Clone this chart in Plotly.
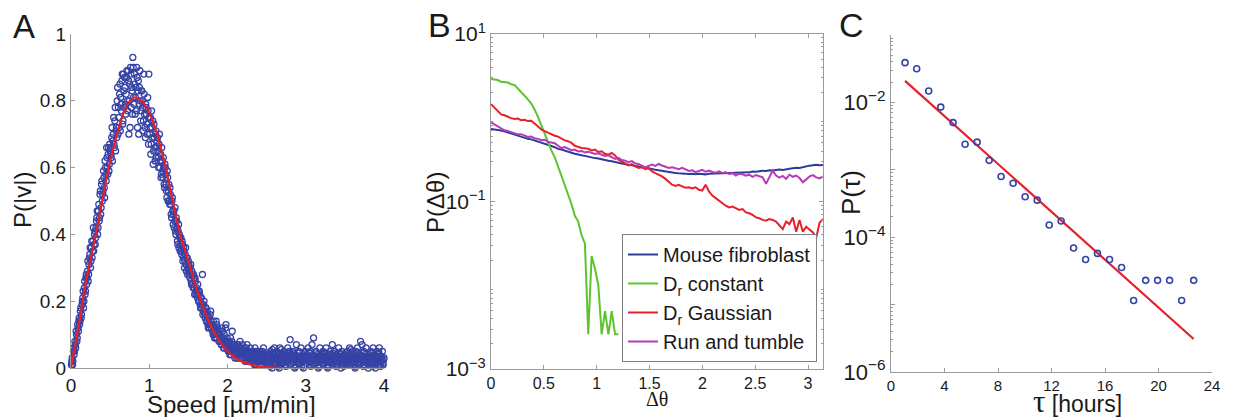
import numpy as np
import plotly.graph_objects as go

# ---------------- Panel A data ----------------
speed_x = np.round(np.arange(1, 401) * 0.01, 3)
speed_p = [
    0.02, 0.01, 0.05, 0.04, 0.08, 0.06, 0.10, 0.09, 0.12, 0.14,
    0.13, 0.17, 0.15, 0.19, 0.21, 0.18, 0.24, 0.22, 0.27, 0.25,
    0.29, 0.26, 0.31, 0.34, 0.30, 0.36, 0.33, 0.38, 0.35, 0.40,
    0.37, 0.42, 0.45, 0.40, 0.47, 0.44, 0.52, 0.46, 0.55, 0.50,
    0.53, 0.57, 0.51, 0.60, 0.56, 0.63, 0.58, 0.66, 0.61, 0.65,
    0.64, 0.69, 0.62, 0.70, 0.67, 0.74, 0.65, 0.72, 0.80, 0.70,
    0.75, 0.82, 0.71, 0.79, 0.86, 0.73, 0.88, 0.78, 0.84, 0.76,
    0.87, 0.80, 0.89, 0.70, 0.85, 0.90, 0.78, 0.83, 0.93, 0.81,
    0.88, 0.76, 0.84, 0.90, 0.72, 0.86, 0.79, 0.89, 0.74, 0.83,
    0.80, 0.71, 0.88, 0.76, 0.69, 0.78, 0.73, 0.81, 0.67, 0.75,
    0.72, 0.64, 0.77, 0.69, 0.61, 0.73, 0.66, 0.70, 0.63, 0.68,
    0.65, 0.60, 0.70, 0.62, 0.57, 0.66, 0.59, 0.63, 0.55, 0.61,
    0.58, 0.53, 0.59, 0.50, 0.55, 0.49, 0.52, 0.46, 0.50, 0.47,
    0.46, 0.42, 0.48, 0.40, 0.44, 0.38, 0.41, 0.36, 0.39, 0.37,
    0.35, 0.38, 0.32, 0.36, 0.30, 0.34, 0.31, 0.33, 0.28, 0.32,
    0.29, 0.27, 0.31, 0.25, 0.28, 0.24, 0.27, 0.22, 0.26, 0.23,
    0.22, 0.25, 0.20, 0.23, 0.19, 0.21, 0.18, 0.28, 0.17, 0.20,
    0.16, 0.18, 0.14, 0.17, 0.13, 0.15, 0.12, 0.16, 0.14, 0.13,
    0.11, 0.14, 0.10, 0.12, 0.09, 0.13, 0.10, 0.11, 0.08, 0.10,
    0.09, 0.07, 0.12, 0.08, 0.06, 0.10, 0.07, 0.13, 0.06, 0.08,
    0.05, 0.07, 0.04, 0.09, 0.06, 0.11, 0.05, 0.07, 0.04, 0.06,
    0.05, 0.03, 0.07, 0.04, 0.06, 0.08, 0.03, 0.05, 0.07, 0.04,
    0.03, 0.06, 0.04, 0.02, 0.07, 0.05, 0.03, 0.04, 0.06, 0.02,
    0.04, 0.02, 0.05, 0.03, 0.06, 0.01, 0.04, 0.03, 0.05, 0.02,
    0.03, 0.05, 0.01, 0.04, 0.02, 0.06, 0.03, 0.01, 0.04, 0.02,
    0.02, 0.04, 0.01, 0.03, 0.05, 0.02, 0.00, 0.04, 0.03, 0.06,
    0.01, 0.03, 0.05, 0.02, 0.04, 0.00, 0.06, 0.03, 0.01, 0.04,
    0.02, 0.05, 0.03, 0.01, 0.04, 0.02, 0.06, 0.03, 0.05, 0.085,
    0.01, 0.04, 0.02, 0.05, 0.03, 0.00, 0.04, 0.07, 0.02, 0.03,
    0.05, 0.01, 0.03, 0.06, 0.02, 0.04, 0.00, 0.03, 0.05, 0.02,
    0.04, 0.02, 0.06, 0.01, 0.03, 0.05, 0.02, 0.07, 0.04, 0.09,
    0.01, 0.03, 0.05, 0.02, 0.04, 0.00, 0.03, 0.06, 0.02, 0.04,
    0.03, 0.05, 0.01, 0.04, 0.02, 0.06, 0.03, 0.00, 0.04, 0.02,
    0.05, 0.02, 0.04, 0.07, 0.01, 0.03, 0.05, 0.02, 0.04, 0.01,
    0.03, 0.06, 0.02, 0.04, 0.00, 0.05, 0.03, 0.01, 0.04, 0.02,
    0.04, 0.01, 0.05, 0.03, 0.02, 0.06, 0.04, 0.01, 0.03, 0.05,
    0.02, 0.04, 0.00, 0.05, 0.03, 0.06, 0.01, 0.04, 0.02, 0.08,
    0.03, 0.07, 0.02, 0.05, 0.01, 0.04, 0.06, 0.02, 0.03, 0.00,
    0.04, 0.02, 0.05, 0.01, 0.03, 0.06, 0.02, 0.04, 0.00, 0.03,
    0.05, 0.02, 0.04, 0.06, 0.01, 0.03, 0.02, 0.05, 0.01, 0.03,
]
speed_x2 = np.round(np.arange(0, 400) * 0.01 + 0.005, 3)
speed_p2 = [
    0.01, 0.03, 0.02, 0.06, 0.05, 0.07, 0.11, 0.08, 0.13, 0.11,
    0.15, 0.14, 0.18, 0.16, 0.20, 0.23, 0.20, 0.26, 0.23, 0.28,
    0.27, 0.32, 0.28, 0.33, 0.36, 0.32, 0.38, 0.35, 0.42, 0.37,
    0.41, 0.39, 0.44, 0.47, 0.42, 0.49, 0.45, 0.53, 0.48, 0.56,
    0.52, 0.59, 0.54, 0.62, 0.58, 0.66, 0.60, 0.64, 0.59, 0.67,
    0.66, 0.63, 0.72, 0.68, 0.75, 0.66, 0.78, 0.71, 0.69, 0.84,
    0.78, 0.72, 0.85, 0.81, 0.77, 0.88, 0.74, 0.83, 0.87, 0.79,
    0.82, 0.89, 0.77, 0.86, 0.80, 0.72, 0.88, 0.84, 0.76, 0.90,
    0.79, 0.85, 0.81, 0.77, 0.87, 0.83, 0.70, 0.84, 0.80, 0.77,
    0.83, 0.78, 0.74, 0.82, 0.72, 0.79, 0.76, 0.70, 0.77, 0.88,
    0.70, 0.75, 0.67, 0.72, 0.74, 0.65, 0.69, 0.62, 0.71, 0.66,
    0.69, 0.63, 0.67, 0.60, 0.64, 0.58, 0.62, 0.57, 0.60, 0.54,
    0.60, 0.55, 0.51, 0.57, 0.53, 0.50, 0.54, 0.49, 0.45, 0.51,
    0.43, 0.47, 0.44, 0.41, 0.45, 0.42, 0.37, 0.43, 0.40, 0.35,
    0.39, 0.34, 0.37, 0.33, 0.35, 0.32, 0.36, 0.29, 0.33, 0.30,
    0.31, 0.28, 0.30, 0.26, 0.29, 0.25, 0.28, 0.24, 0.27, 0.22,
    0.24, 0.21, 0.23, 0.20, 0.22, 0.18, 0.21, 0.19, 0.16, 0.19,
    0.17, 0.15, 0.18, 0.14, 0.16, 0.12, 0.15, 0.13, 0.17, 0.12,
    0.13, 0.10, 0.12, 0.09, 0.11, 0.14, 0.09, 0.12, 0.10, 0.08,
    0.10, 0.08, 0.07, 0.11, 0.09, 0.06, 0.08, 0.12, 0.07, 0.09,
    0.06, 0.08, 0.05, 0.07, 0.04, 0.08, 0.06, 0.05, 0.07, 0.03,
    0.06, 0.04, 0.05, 0.07, 0.03, 0.05, 0.04, 0.06, 0.03, 0.05,
    0.04, 0.05, 0.02, 0.06, 0.03, 0.04, 0.05, 0.02, 0.04, 0.03,
    0.03, 0.05, 0.02, 0.04, 0.01, 0.03, 0.05, 0.02, 0.04, 0.03,
    0.02, 0.04, 0.03, 0.01, 0.05, 0.02, 0.04, 0.03, 0.02, 0.04,
    0.035, 0.015, 0.025, 0.045, 0.005, 0.035, 0.025, 0.055, 0.015, 0.025,
    0.045, 0.025, 0.015, 0.035, 0.005, 0.045, 0.015, 0.025, 0.055, 0.035,
    0.015, 0.035, 0.025, 0.045, 0.005, 0.035, 0.025, 0.015, 0.045, 0.025,
    0.035, 0.015, 0.025, 0.045, 0.025, 0.035, 0.005, 0.025, 0.035, 0.015,
    0.025, 0.045, 0.015, 0.035, 0.025, 0.005, 0.035, 0.025, 0.045, 0.015,
    0.025, 0.035, 0.015, 0.025, 0.045, 0.025, 0.005, 0.035, 0.025, 0.015,
    0.035, 0.025, 0.045, 0.015, 0.025, 0.035, 0.005, 0.025, 0.035, 0.025,
    0.015, 0.035, 0.025, 0.015, 0.045, 0.025, 0.035, 0.005, 0.025, 0.035,
    0.025, 0.015, 0.035, 0.025, 0.045, 0.015, 0.025, 0.035, 0.005, 0.025,
    0.035, 0.015, 0.025, 0.045, 0.025, 0.015, 0.035, 0.025, 0.005, 0.035,
    0.025, 0.045, 0.015, 0.025, 0.035, 0.015, 0.025, 0.055, 0.025, 0.015,
    0.035, 0.025, 0.005, 0.035, 0.025, 0.045, 0.015, 0.025, 0.035, 0.025,
    0.015, 0.035, 0.025, 0.005, 0.045, 0.025, 0.035, 0.015, 0.025, 0.035,
    0.025, 0.015, 0.035, 0.025, 0.045, 0.005, 0.025, 0.035, 0.015, 0.025,
    0.035, 0.015, 0.025, 0.045, 0.025, 0.005, 0.035, 0.025, 0.015, 0.025,
]
fit_x = np.round(np.arange(0, 41) * 0.1, 1)
fit_p = [
    0.0, 0.13, 0.27, 0.38, 0.50, 0.62, 0.71, 0.78, 0.81, 0.80,
    0.765, 0.70, 0.61, 0.50, 0.395, 0.32, 0.24, 0.175, 0.12, 0.08,
    0.05, 0.03, 0.018, 0.01, 0.005, 0.002, 0.001, 0.0, 0.0, 0.0,
    0.0, 0.0, 0.0, 0.0, 0.0, 0.0, 0.0, 0.0, 0.0, 0.0, 0.0,
]

# ---------------- Panel B data (log10 of P) ----------------
dtheta = np.linspace(0, np.pi, 100)
mouse_log = [
    -0.135, -0.138, -0.146, -0.152, -0.163, -0.176, -0.186, -0.205, -0.214, -0.232,
    -0.245, -0.252, -0.258, -0.270, -0.282, -0.300, -0.312, -0.322, -0.338, -0.352,
    -0.372, -0.380, -0.395, -0.402, -0.418, -0.430, -0.442, -0.448, -0.455, -0.466,
    -0.474, -0.482, -0.486, -0.498, -0.505, -0.514, -0.520, -0.532, -0.538, -0.545,
    -0.556, -0.560, -0.566, -0.575, -0.580, -0.588, -0.596, -0.604, -0.612, -0.620,
    -0.628, -0.636, -0.642, -0.648, -0.654, -0.660, -0.664, -0.668, -0.666, -0.672,
    -0.670, -0.674, -0.668, -0.672, -0.676, -0.670, -0.668, -0.672, -0.665, -0.668,
    -0.660, -0.664, -0.658, -0.662, -0.652, -0.656, -0.648, -0.652, -0.642, -0.645,
    -0.638, -0.632, -0.636, -0.628, -0.630, -0.622, -0.618, -0.624, -0.612, -0.608,
    -0.602, -0.596, -0.600, -0.588, -0.578, -0.572, -0.566, -0.560, -0.568, -0.563,
]
drconst_log = [
    0.462, 0.455, 0.450, 0.430, 0.428, 0.420, 0.400, 0.392, 0.350, 0.310,
    0.270, 0.220, 0.170, 0.100, 0.010, -0.090, -0.200, -0.300, -0.390, -0.470,
    -0.580, -0.700, -0.800, -0.930, -1.030, -1.170, -1.240, -1.400, -1.500, -2.586,
    -1.650, -1.800, -2.000, -2.586, -2.310, -2.586, -2.310, -2.586, -2.586,
] + [None] * 61
drgauss_log = [
    0.163, 0.120, 0.075, 0.040, 0.030, 0.010, -0.005, -0.015, -0.010, -0.030,
    -0.025, -0.040, -0.035, -0.070, -0.110, -0.140, -0.160, -0.180, -0.200, -0.215,
    -0.225, -0.250, -0.270, -0.280, -0.300, -0.335, -0.350, -0.360, -0.365, -0.370,
    -0.390, -0.380, -0.410, -0.400, -0.430, -0.440, -0.420, -0.450, -0.500, -0.520,
    -0.545, -0.570, -0.555, -0.580, -0.600, -0.590, -0.615, -0.600, -0.640, -0.660,
    -0.680, -0.700, -0.730, -0.770, -0.800, -0.815, -0.800, -0.820, -0.835, -0.830,
    -0.845, -0.830, -0.860, -0.870, -0.800, -0.880, -0.930, -0.960, -0.990, -1.030,
    -1.050, -1.070, -1.060, -1.080, -1.100, -1.090, -1.130, -1.140, -1.160, -1.190,
    -1.200, -1.220, -1.230, -1.210, -1.220, -1.240, -1.280, -1.330, -1.240, -1.270,
    -1.190, -1.360, -1.220, -1.360, -1.300, -1.330, -1.370, -1.430, -1.250, -1.210,
]
runtumble_log = [
    -0.056, -0.082, -0.108, -0.128, -0.150, -0.158, -0.172, -0.180, -0.198, -0.196,
    -0.218, -0.230, -0.225, -0.246, -0.252, -0.268, -0.262, -0.290, -0.296, -0.305,
    -0.335, -0.362, -0.350, -0.372, -0.388, -0.380, -0.402, -0.396, -0.414, -0.405,
    -0.420, -0.432, -0.425, -0.438, -0.455, -0.448, -0.470, -0.492, -0.478, -0.505,
    -0.512, -0.530, -0.518, -0.545, -0.552, -0.570, -0.592, -0.575, -0.560, -0.575,
    -0.552, -0.570, -0.585, -0.600, -0.592, -0.605, -0.615, -0.598, -0.620, -0.635,
    -0.628, -0.650, -0.636, -0.622, -0.645, -0.630, -0.648, -0.655, -0.640, -0.660,
    -0.652, -0.672, -0.662, -0.690, -0.668, -0.675, -0.692, -0.680, -0.705, -0.685,
    -0.698, -0.712, -0.790, -0.700, -0.630, -0.690, -0.715, -0.695, -0.730, -0.680,
    -0.705, -0.690, -0.720, -0.770, -0.740, -0.700, -0.685, -0.712, -0.725, -0.700,
]
series_names = ["Mouse fibroblast", "D<sub>r</sub> constant", "D<sub>r</sub> Gaussian", "Run and tumble"]

# ---------------- Panel C data ----------------
tau_hours = [1.05, 1.92, 2.82, 3.72, 4.64, 5.54, 6.44, 7.34, 8.23, 9.13, 10.03, 10.93, 11.83,
             12.72, 13.65, 14.55, 15.44, 16.34, 17.24, 18.14, 19.04, 19.93, 20.83, 21.73, 22.63]
p_tau_log = [-1.41, -1.50, -1.83, -2.07, -2.30, -2.62, -2.59, -2.86, -3.10, -3.20, -3.40, -3.45, -3.82,
             -3.76, -4.16, -4.33, -4.24, -4.33, -4.45, -4.94, -4.64, -4.64, -4.64, -4.94, -4.64]
fit_tau = [1.05, 22.63]
fit_p_tau_log = [-1.68, -5.51]

# ---------------- Styling ----------------
FONT = "Liberation Sans, Arial, sans-serif"
SERIF = "Liberation Serif, Times New Roman, serif"
AXC = "#9a9a9a"
TXT = "#1a1a1a"
W, H = 1238, 417


def dx(px):
    return px / W


def dy(py):
    return 1 - py / H


fig = go.Figure()

# Panel A
for xs, ys in [(speed_x, speed_p), (speed_x2, speed_p2)]:
    fig.add_trace(go.Scatter(x=xs, y=ys, mode="markers", xaxis="x", yaxis="y",
                             marker=dict(symbol="circle-open", size=6, color="#3543a6", line=dict(width=1.3)),
                             showlegend=False, cliponaxis=False))
fig.add_trace(go.Scatter(x=fit_x, y=fit_p, mode="lines", line=dict(color="#e4202b", width=2.2, shape="spline"),
                         xaxis="x", yaxis="y", showlegend=False))

# Panel B
colors_b = ["#2d3c9c", "#5cc42e", "#e8202a", "#b43cb4"]
for name, vals, col in zip(series_names, [mouse_log, drconst_log, drgauss_log, runtumble_log], colors_b):
    yv = [None if v is None else 10 ** v for v in vals]
    fig.add_trace(go.Scatter(x=dtheta, y=yv, mode="lines", name=name, line=dict(color=col, width=2),
                             xaxis="x2", yaxis="y2", connectgaps=False))

# Panel C
fig.add_trace(go.Scatter(x=fit_tau, y=[10 ** v for v in fit_p_tau_log], mode="lines",
                         line=dict(color="#e4202b", width=2.2), xaxis="x3", yaxis="y3", showlegend=False))
fig.add_trace(go.Scatter(x=tau_hours, y=[10 ** v for v in p_tau_log], mode="markers",
                         marker=dict(symbol="circle-open", size=6, color="#3543a6", line=dict(width=1.6)),
                         xaxis="x3", yaxis="y3", showlegend=False))

common = dict(showgrid=False, zeroline=False, showline=True, linecolor=AXC, linewidth=1, automargin=False,
              ticks="inside", ticklen=4, tickcolor=AXC)


def tf(size):
    return dict(family=FONT, size=size, color=TXT)


minor_b = [m * 10 ** e for e in range(-3, 1) for m in range(2, 10)]
minor_c = [m * 10 ** e for e in range(-6, -1) for m in range(2, 10)]

fig.update_layout(
    width=W, height=H,
    margin=dict(l=0, r=0, t=0, b=0, pad=0),
    paper_bgcolor="white", plot_bgcolor="white",
    font=dict(family=FONT, color=TXT),
    xaxis=dict(domain=[dx(71), dx(384)], range=[0, 4], tickvals=[0, 1, 2, 3, 4],
               anchor="y", tickfont=tf(19), **common),
    yaxis=dict(domain=[dy(368), dy(34)], range=[0, 1], tickvals=[0, 0.2, 0.4, 0.6, 0.8, 1],
               ticktext=["0", "0.2", "0.4", "0.6", "0.8", "1"],
               anchor="x", tickfont=tf(19), **common),
    xaxis2=dict(domain=[dx(491), dx(823)], range=[0, np.pi], tickvals=[0, 0.5, 1, 1.5, 2, 2.5, 3],
                ticktext=["0", "0.5", "1", "1.5", "2", "2.5", "3"], mirror="allticks",
                anchor="y2", tickfont=tf(16), **common),
    yaxis2=dict(domain=[dy(369), dy(34)], type="log", range=[-3, 1],
                tickvals=[0.001, 0.1, 10], ticktext=["10<sup>−3</sup>", "10<sup>−1</sup>", "10<sup>1</sup>"],
                mirror="allticks",
                minor=dict(tickvals=minor_b, ticks="inside", ticklen=2, tickcolor=AXC, showgrid=False),
                anchor="x2", tickfont=tf(21), **common),
    xaxis3=dict(domain=[dx(891), dx(1212)], range=[0, 24], tickvals=[0, 4, 8, 12, 16, 20, 24],
                anchor="y3", tickfont=tf(15), **common),
    yaxis3=dict(domain=[dy(372), dy(35)], type="log", range=[-6, -1],
                tickvals=[1e-6, 1e-5, 1e-4, 1e-3, 1e-2, 1e-1],
                ticktext=["10<sup>−6</sup>", " ", "10<sup>−4</sup>", " ", "10<sup>−2</sup>", " "],
                minor=dict(tickvals=minor_c, ticks="inside", ticklen=2, tickcolor=AXC, showgrid=False),
                anchor="x3", tickfont=tf(22), **common),
    legend=dict(x=dx(817), y=dy(362), xanchor="right", yanchor="bottom",
                bgcolor="white", bordercolor="#808080", borderwidth=1,
                font=dict(family=FONT, size=20, color=TXT), itemwidth=30,
                tracegroupgap=0),
)

ann = [
    dict(text="A", x=dx(11), y=dy(26), font=dict(size=33)),
    dict(text="B", x=dx(426), y=dy(25), font=dict(size=34)),
    dict(text="C", x=dx(837), y=dy(25), font=dict(size=34)),
    dict(text="Speed [µm/min]", x=dx(231), y=dy(404), font=dict(size=24), xanchor="center"),
    dict(text="P(|v|)", x=dx(22), y=dy(200), font=dict(size=24), textangle=-90, xanchor="center"),
    dict(text="Δθ", x=dx(657), y=dy(399), font=dict(size=20, family=SERIF), xanchor="center"),
    dict(text="P(Δθ)", x=dx(435), y=dy(203), font=dict(size=24), textangle=-90, xanchor="center"),
    dict(text="<span style='font-family:Liberation Serif;font-size:31px'>τ</span> [hours]", x=dx(1077), y=dy(401),
         font=dict(size=23), xanchor="center"),
    dict(text="P(τ)", x=dx(851), y=dy(193), font=dict(size=26), textangle=-90, xanchor="center"),
]
for a in ann:
    a.setdefault("xanchor", "left")
    a.setdefault("yanchor", "middle")
    a["xref"] = "paper"
    a["yref"] = "paper"
    a["showarrow"] = False
    a["font"] = {"family": FONT, "color": TXT, **a["font"]}
    fig.add_annotation(**a)

fig.write_html("out.html", config={"displayModeBar": False},
               post_script="document.body.style.margin='0px';document.body.style.overflow='hidden';")
